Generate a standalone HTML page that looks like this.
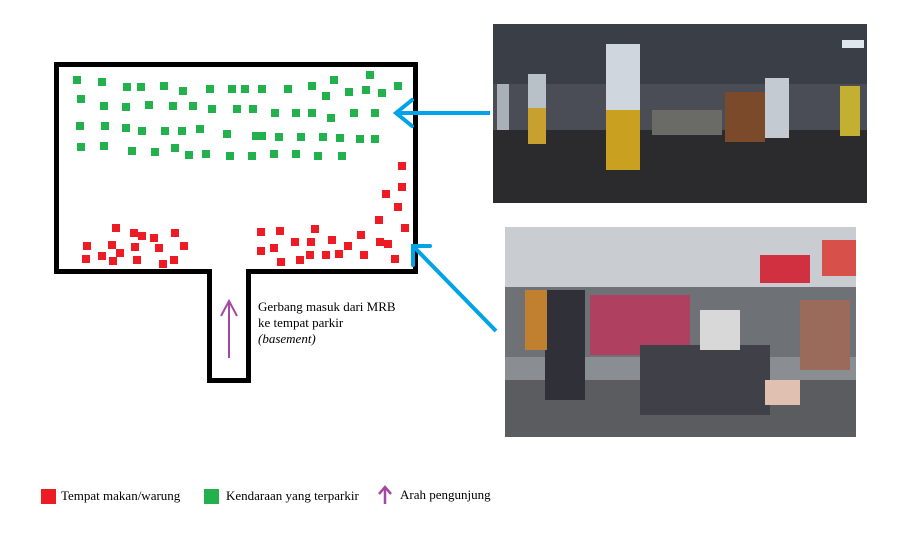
<!DOCTYPE html>
<html><head><style>
body{margin:0;width:902px;height:537px;background:#fff;position:relative;overflow:hidden;font-family:"Liberation Serif",serif;}
.s{position:absolute;width:8px;height:8px;}
.g{background:#22b14c}.r{background:#ed1c24}
.t{position:absolute;font-size:13px;color:#000;white-space:nowrap}
</style></head><body>
<svg width="902" height="537" style="position:absolute;left:0;top:0">
<path d="M56.5,64.5 H415.5 V271.5 H248.5 V380.5 H209.5 V271.5 H56.5 Z" fill="none" stroke="#000" stroke-width="5"/>
<line x1="229" y1="358" x2="229" y2="302" stroke="#a349a4" stroke-width="2"/>
<path d="M221,316 L229,301 L237,316" fill="none" stroke="#a349a4" stroke-width="2"/>
<line x1="490" y1="113" x2="396" y2="113" stroke="#00a2e8" stroke-width="4"/>
<path d="M412,100 L396,113 L412,126" fill="none" stroke="#00a2e8" stroke-width="4" stroke-linecap="round"/>
<line x1="496" y1="331" x2="414" y2="247" stroke="#00a2e8" stroke-width="4"/>
<path d="M413,265 L413,246 L430,246" fill="none" stroke="#00a2e8" stroke-width="4" stroke-linecap="round"/>
<!-- top photo -->
<g>
<rect x="493" y="24" width="374" height="179" fill="#2a2d33"/>
<rect x="493" y="24" width="374" height="60" fill="#3a3f47"/>
<rect x="493" y="130" width="374" height="73" fill="#2b2b2e"/>
<rect x="493" y="84" width="374" height="46" fill="#4a4d55"/>
<rect x="606" y="44" width="34" height="126" fill="#cfd6de"/>
<rect x="606" y="110" width="34" height="60" fill="#c9a020"/>
<rect x="528" y="74" width="18" height="70" fill="#b8c0c8"/>
<rect x="528" y="108" width="18" height="36" fill="#c8a030"/>
<rect x="765" y="78" width="24" height="60" fill="#c4cad2"/>
<rect x="497" y="84" width="12" height="46" fill="#aab0b8"/>
<rect x="840" y="86" width="20" height="50" fill="#c4b030"/>
<rect x="725" y="92" width="40" height="50" fill="#7a4a2a"/>
<rect x="652" y="110" width="70" height="25" fill="#6a6a66"/>
<rect x="842" y="40" width="22" height="8" fill="#dfe6ee"/>
</g>
<!-- bottom photo -->
<g>
<rect x="505" y="227" width="351" height="210" fill="#8a8e92"/>
<rect x="505" y="227" width="351" height="60" fill="#c9ccd0"/>
<rect x="505" y="287" width="351" height="70" fill="#6e7276"/>
<rect x="505" y="380" width="351" height="57" fill="#5a5c60"/>
<rect x="760" y="255" width="50" height="28" fill="#d03040"/>
<rect x="822" y="240" width="34" height="36" fill="#d8504a"/>
<rect x="590" y="295" width="100" height="60" fill="#b04060"/>
<rect x="640" y="345" width="130" height="70" fill="#404048"/>
<rect x="545" y="290" width="40" height="110" fill="#303038"/>
<rect x="525" y="290" width="22" height="60" fill="#c08030"/>
<rect x="765" y="380" width="35" height="25" fill="#e0c0b0"/>
<rect x="700" y="310" width="40" height="40" fill="#d8d8d8"/>
<rect x="800" y="300" width="50" height="70" fill="#9a6a5a"/>
</g>
</svg>
<div id="sq"></div>
<div class="t" style="left:258px;top:299px;line-height:16px">Gerbang masuk dari MRB<br>ke tempat parkir<br><i>(basement)</i></div>
<div class="s r" style="left:41px;top:489px;width:15px;height:15px"></div>
<div class="t" style="left:61px;top:488px">Tempat makan/warung</div>
<div class="s g" style="left:204px;top:489px;width:15px;height:15px"></div>
<div class="t" style="left:226px;top:488px">Kendaraan yang terparkir</div>
<svg width="14" height="20" style="position:absolute;left:378px;top:485px"><line x1="7" y1="3" x2="7" y2="19" stroke="#a349a4" stroke-width="2.5"/><path d="M1,9 L7,2 L13,9" fill="none" stroke="#a349a4" stroke-width="2.5"/></svg>
<div class="t" style="left:400px;top:487px">Arah pengunjung</div>
<script>
var G=[[80,60],[155,65],[230,80],[272,80],[342,77],[398,92],[480,87],[547,87],[585,87],[636,87],[714,87],[786,77],[851,59],[959,44],[829,107],[897,95],[947,89],[996,98],[1044,77],
[92,117],[162,137],[228,140],[296,134],[369,137],[429,137],[486,147],[561,147],[610,147],[675,158],[737,158],[786,158],[843,173],[911,158],[975,158],
[90,198],[165,198],[228,205],[277,212],[345,212],[396,212],[450,207],[531,221],[618,228],[637,228],[686,231],[752,231],[819,231],[870,234],[929,236],[975,236],
[92,260],[162,258],[246,272],[315,275],[375,264],[416,286],[468,282],[540,288],[605,288],[672,282],[738,282],[804,288],[877,288]];
var R=[[1056,33],[1055,96],[1008,117],[1043,156],[986,194],[1065,218],[932,240],[989,260],[1013,266],[1035,312],[941,299],[893,272],[866,296],[845,254],[827,299],[795,221],[783,260],[779,299],[749,314],[734,260],[690,228],[671,278],[692,320],[632,230],[632,288],[198,218],[252,233],[276,242],[312,248],[375,233],[401,272],[327,278],[254,275],[186,269],[210,293],[188,317],[261,314],[155,304],[110,274],[108,311],[339,327],[371,314]];
var h='';
G.forEach(function(p){h+='<div class="s g" style="left:'+Math.round(50+p[0]/3-4)+'px;top:'+Math.round(60+p[1]/3-4)+'px"></div>';});
R.forEach(function(p){h+='<div class="s r" style="left:'+Math.round(50+p[0]/3-4)+'px;top:'+Math.round(155+p[1]/3-4)+'px"></div>';});
document.getElementById('sq').innerHTML=h;
</script>
</body></html>
